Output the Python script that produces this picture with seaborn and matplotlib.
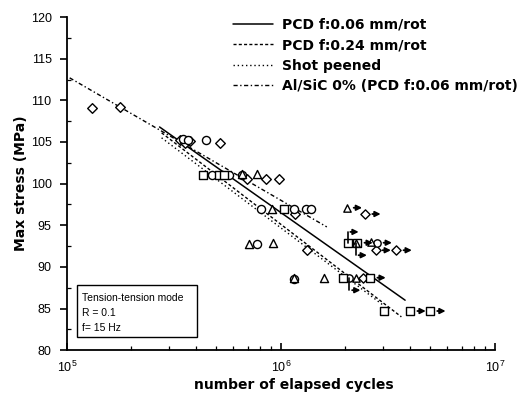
import numpy as np
import pandas as pd
import matplotlib
matplotlib.use("Agg")
import matplotlib.pyplot as plt
from matplotlib.patches import Rectangle
import seaborn as sns

# ---------------- data ----------------
# fitted lines: (start cycles, end cycles), (start stress, end stress)
line_names = ["PCD f:0.06 mm/rot", "PCD f:0.24 mm/rot", "Shot peened",
              "Al/SiC 0% (PCD f:0.06 mm/rot)"]
line_x = [[2.71e5, 3.81e6], [2.77e5, 3.66e6], [2.77e5, 3.01e6], [1.03e5, 1.64e6]]
line_y = [[106.8, 86.0], [106.1, 84.0], [105.5, 85.4], [112.7, 94.8]]

# failed specimens
diam_x = [1.31e5, 1.77e5, 3.36e5, 3.57e5, 3.77e5, 5.2e5, 6.95e5, 8.51e5, 9.79e5, 1.17e6, 1.32e6]
diam_y = [109.1, 109.2, 105.2, 104.9, 105.1, 104.9, 100.55, 100.55, 100.55, 96.35, 92.0]
circ_x = [3.47e5, 3.69e5, 4.48e5, 4.78e5, 5.73e5, 6.59e5, 8.07e5, 1.15e6, 1.31e6, 1.39e6, 7.73e5, 1.15e6]
circ_y = [105.4, 105.2, 105.2, 101.0, 101.0, 101.0, 96.95, 96.95, 96.95, 96.95, 92.75, 88.6]
sq_x = [4.34e5, 5.15e5, 5.43e5, 1.03e6, 3.05e6]
sq_y = [101.0, 101.0, 101.0, 96.95, 84.7]
tri_x = [6.59e5, 7.73e5, 9.08e5, 7.1e5, 9.18e5, 1.15e6, 1.59e6]
tri_y = [101.15, 101.15, 96.95, 92.75, 92.9, 88.7, 88.7]

# run-outs (with arrows): cycles, stress, marker, arrow kind
run_x = [2.03e6, 2.48e6, 2.05e6, 2.24e6, 2.28e6, 2.65e6, 2.80e6, 2.77e6, 3.47e6,
         1.96e6, 2.09e6, 2.24e6, 2.43e6, 2.62e6, 4.03e6, 4.99e6]
run_y = [97.1, 96.35, 92.9, 92.9, 92.9, 93.0, 92.9, 92.0, 92.0,
         88.7, 88.7, 88.7, 88.7, 88.7, 84.7, 84.7]
run_m = ["^", "D", "s", "^", "s", "^", "o", "D", "D",
         "s", "o", "^", "D", "s", "s", "s"]
run_arrow = ["right", "right", "up", "down", "right", "none", "right", "right", "right",
             "none", "down", "none", "none", "right", "right", "right"]

box_lines = ["Tension-tension mode", "R = 0.1", "f= 15 Hz"]
y_ticks = [80, 85, 90, 95, 100, 105, 110, 115, 120]

# ---------------- style ----------------
sns.set_style("ticks")
plt.rcParams["font.family"] = ["Liberation Sans", "DejaVu Sans"]
plt.rcParams.update({"text.color": "black", "axes.labelcolor": "black",
                     "xtick.color": "black", "ytick.color": "black",
                     "axes.edgecolor": "black"})

fig = plt.figure(figsize=(5.23, 3.97), dpi=100)
ax = fig.add_axes([0.128, 0.118, 0.818, 0.839])

styles = ["-", (0, (2.2, 1.6)), (0, (1, 2)), (0, (3, 1.8, 1, 1.8))]
widths = [1.1, 1.0, 1.0, 1.0]
for name, xs, ys, ls, lw in zip(line_names, line_x, line_y, styles, widths):
    df = pd.DataFrame({"cycles": xs, "stress": ys})
    sns.lineplot(data=df, x="cycles", y="stress", ax=ax, color="black",
                 linestyle=ls, linewidth=lw, label=name)

mk_kw = dict(facecolor="white", edgecolor="black", linewidth=1.0, zorder=3, legend=False)
sns.scatterplot(x=diam_x, y=diam_y, marker="D", s=24, ax=ax, **mk_kw)
sns.scatterplot(x=circ_x, y=circ_y, marker="o", s=34, ax=ax, **mk_kw)
sns.scatterplot(x=sq_x, y=sq_y, marker="s", s=28, ax=ax, **mk_kw)
sns.scatterplot(x=tri_x, y=tri_y, marker="^", s=34, ax=ax, **mk_kw)
for m in ["D", "o", "s", "^"]:
    xs = [x for x, mm in zip(run_x, run_m) if mm == m]
    ys = [y for y, mm in zip(run_y, run_m) if mm == m]
    sns.scatterplot(x=xs, y=ys, marker=m, s=28 if m != "D" else 22, ax=ax, **mk_kw)

arr_kw = dict(arrowstyle="-|>", color="black", lw=1.3, mutation_scale=8)
for x, y, kind in zip(run_x, run_y, run_arrow):
    if kind == "right":
        ax.annotate("", xy=(x * 10 ** 0.085, y), xytext=(x * 10 ** 0.02, y),
                    arrowprops=arr_kw, zorder=4)
    elif kind in ("up", "down"):
        dy = 1.3 if kind == "up" else -1.5
        ax.plot([x, x], [y, y + dy], color="black", lw=1.2, zorder=4)
        ax.annotate("", xy=(x * 10 ** 0.065, y + dy), xytext=(x, y + dy),
                    arrowprops=arr_kw, zorder=4)

ax.set_xscale("log")
ax.set_xlim(1e5, 1e7)
ax.set_ylim(80, 120)
ax.set_yticks(y_ticks)
ax.set_yticks(np.arange(80, 120.1, 2.5), minor=True)
sns.despine(ax=ax)
for s in ["left", "bottom"]:
    ax.spines[s].set_linewidth(1.3)
ax.tick_params(axis="y", which="major", direction="out", length=5, width=1.2,
               labelsize=9, pad=6)
ax.tick_params(axis="y", which="minor", direction="in", length=3, width=0.9)
ax.tick_params(axis="x", which="major", direction="in", length=5, width=1.2,
               labelsize=9, pad=7)
ax.tick_params(axis="x", which="minor", direction="in", length=3, width=0.9)

lab_font = {"family": "DejaVu Sans", "size": 10, "weight": "bold", "color": "black"}
ax.set_xlabel("number of elapsed cycles", fontdict=lab_font)
ax.set_ylabel("Max stress (MPa)", fontdict=lab_font)
ax.xaxis.set_label_coords(0.53, -0.085)
ax.yaxis.set_label_coords(-0.092, 0.5)

leg = ax.legend(loc="upper left", bbox_to_anchor=(0.388, 0.998), frameon=False,
                handlelength=2.9, handletextpad=0.6, labelspacing=0.47,
                borderpad=0, borderaxespad=0,
                prop={"family": "DejaVu Sans", "size": 10, "weight": "bold"})
for t in leg.get_texts():
    t.set_color("black")

ax.add_patch(Rectangle((0.023, 0.039), 0.28, 0.156, transform=ax.transAxes,
                       fill=False, edgecolor="black", linewidth=1.0, zorder=5))
for i, t in enumerate(box_lines):
    ax.text(0.035, 0.158 - i * 0.046, t, transform=ax.transAxes, fontsize=7.5,
            va="center", ha="left", color="black")

fig.savefig("out.png", dpi=100)
